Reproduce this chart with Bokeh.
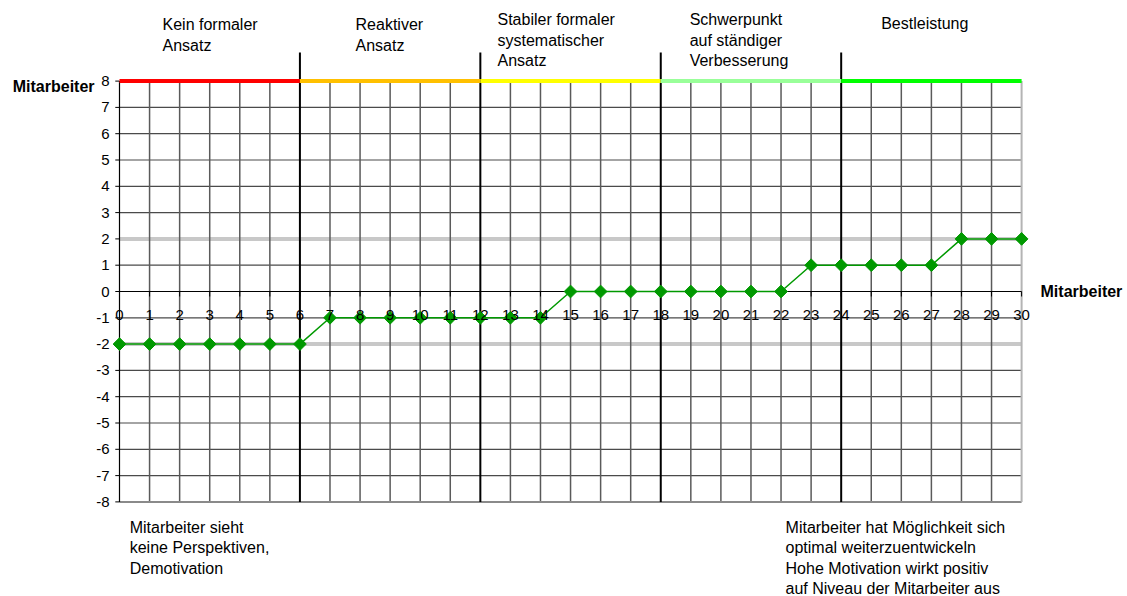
from bokeh.plotting import figure
from bokeh.models import Range1d
from bokeh.core.properties import value
from bokeh.embed import file_html
from bokeh.resources import INLINE

# --- data -------------------------------------------------------------
steps = list(range(31))
level = [-2, -2, -2, -2, -2, -2, -2,
         -1, -1, -1, -1, -1, -1, -1, -1,
         0, 0, 0, 0, 0, 0, 0, 0,
         1, 1, 1, 1, 1,
         2, 2, 2]
x_tick_labels = [str(s) for s in steps]
y_ticks = list(range(-8, 9))
y_tick_labels = [str(t) for t in y_ticks]

phase_bounds = [0, 6, 12, 18, 24, 30]
phase_names = [
    ["Kein formaler", "Ansatz"],
    ["Reaktiver", "Ansatz"],
    ["Stabiler formaler", "systematischer", "Ansatz"],
    ["Schwerpunkt", "auf ständiger", "Verbesserung"],
    ["Bestleistung"],
]
phase_colors = ["#ff0000", "#ffc000", "#ffff00", "#99ff99", "#00ff00"]
ref_levels = [2, -2]

note_low = ["Mitarbeiter sieht", "keine Perspektiven,", "Demotivation"]
note_high = ["Mitarbeiter hat Möglichkeit sich", "optimal weiterzuentwickeln",
             "Hohe Motivation wirkt positiv", "auf Niveau der Mitarbeiter aus"]
axis_title = "Mitarbeiter"

# --- layout -------------------------------------------------------------
W, H = 1127, 596
X0_PX, X_UNIT = 119, 30.07     # pixel of x=0, pixels per step
Y0_PX, Y_UNIT = 291, 26.3      # pixel of y=0, pixels per level
FONT = "Liberation Sans"

x_range = Range1d(-X0_PX / X_UNIT, (W - X0_PX) / X_UNIT)
y_range = Range1d((Y0_PX - H) / Y_UNIT, Y0_PX / Y_UNIT)

p = figure(width=W, height=H, x_range=x_range, y_range=y_range,
           output_backend="svg", toolbar_location=None,
           x_axis_location=None, y_axis_location=None)
p.min_border = 0
p.outline_line_color = None
p.grid.visible = False
p.background_fill_color = "white"
p.border_fill_color = "white"

ymin, ymax = y_ticks[0], y_ticks[-1]
xmin, xmax = steps[0], steps[-1]
separators = phase_bounds[1:-1]

# horizontal grid
hy = [t for t in y_ticks if t not in (0, ymin, ymax) and t not in ref_levels]
p.segment(x0=[xmin] * len(hy), x1=[xmax] * len(hy), y0=hy, y1=hy,
          line_color="#4a4a4a", line_width=1.2)

# light reference bands
p.segment(x0=[xmin] * len(ref_levels), x1=[xmax] * len(ref_levels),
          y0=ref_levels, y1=ref_levels, line_color="#c8c8c8", line_width=4)

# vertical grid
vx = [s for s in steps if s not in separators and s not in (xmin, xmax)]
p.segment(x0=vx, x1=vx, y0=[ymin] * len(vx), y1=[ymax] * len(vx),
          line_color="#5a5a5a", line_width=1.5)

# frame borders (bottom and right)
p.segment(x0=[xmin], x1=[xmax], y0=[ymin], y1=[ymin], line_color="#8a8a8a", line_width=2)
p.segment(x0=[xmax], x1=[xmax], y0=[ymin], y1=[ymax], line_color="#b4b4b4", line_width=2)

# axes through the origin, with their ticks
p.segment(x0=[xmin], x1=[xmax], y0=[0], y1=[0], line_color="black", line_width=1.2)
p.segment(x0=[xmin], x1=[xmin], y0=[ymin], y1=[ymax], line_color="black", line_width=1.2)
p.segment(x0=steps, x1=steps, y0=[0] * len(steps), y1=[-0.19] * len(steps),
          line_color="black", line_width=1)
p.segment(x0=[-0.14] * len(y_ticks), x1=[xmin] * len(y_ticks), y0=y_ticks, y1=y_ticks,
          line_color="black", line_width=1)

# phase separators, reaching up into the heading area
sep_top = ymax + 1.09
p.segment(x0=separators, x1=separators, y0=[ymin] * len(separators),
          y1=[sep_top] * len(separators), line_color="black", line_width=2)

# coloured band along the top edge, one colour per phase
p.segment(x0=phase_bounds[:-1], x1=phase_bounds[1:],
          y0=[ymax] * len(phase_colors), y1=[ymax] * len(phase_colors),
          line_color=phase_colors, line_width=4)

# the series
p.line(steps, level, line_color="#009900", line_width=1.5)
p.scatter(steps, level, marker="square", angle=0.785398, size=9,
          fill_color="#009900", line_color="#009900")

# tick labels
p.text(x=steps, y=[-0.90] * len(steps), text=x_tick_labels,
       text_align="center", text_baseline="middle",
       text_font=value(FONT), text_font_size="15px", text_color="black")
p.text(x=[-0.33] * len(y_ticks), y=y_ticks, text=y_tick_labels,
       text_align="right", text_baseline="middle",
       text_font=value(FONT), text_font_size="15px", text_color="black")

# axis titles
p.text(x=[30.63, -0.83], y=[0, 7.79], text=[axis_title, axis_title],
       text_align=["left", "right"], text_baseline="middle",
       text_font=value(FONT), text_font_size="16px", text_font_style="bold",
       text_color="black")

# phase headings and notes, one row per text line
STEP = 0.785
phase_x = [1.43, 7.85, 12.57, 18.96, 25.33]
phase_y = [10.15, 10.15, 10.34, 10.34, 10.19]
tx, ty, tt = [], [], []
for lines, x, y in zip(phase_names, phase_x, phase_y):
    for i, line in enumerate(lines):
        tx.append(x)
        ty.append(y - i * STEP)
        tt.append(line)
for lines, x in ((note_low, 0.34), (note_high, 22.15)):
    for i, line in enumerate(lines):
        tx.append(x)
        ty.append(-8.97 - i * 0.772)
        tt.append(line)
p.text(x=tx, y=ty, text=tt, text_align="left", text_baseline="middle",
       text_font=value(FONT), text_font_size="16px", text_color="black")

open("out.html", "w").write(file_html(p, INLINE))
